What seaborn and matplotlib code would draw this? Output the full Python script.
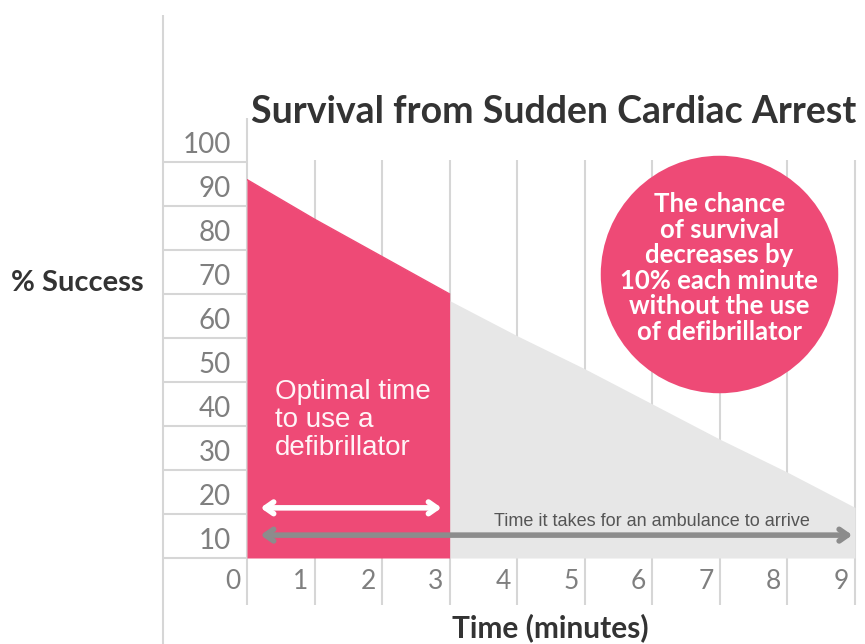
import matplotlib
matplotlib.use("Agg")
import matplotlib.pyplot as plt
import matplotlib.transforms as mtransforms
import seaborn as sns
import numpy as np

# values
minutes_optimal = [0, 1, 2, 3]
survival_optimal = [86, 77, 68.5, 60]
minutes_late = [3, 4, 5, 6, 7, 8, 9]
survival_late = [58.5, 50.5, 43, 35, 27, 19.5, 11.5]
y_labels = [10, 20, 30, 40, 50, 60, 70, 80, 90, 100]
x_labels = [0, 1, 2, 3, 4, 5, 6, 7, 8, 9]

PINK = '#EE4A76'
GREY_FILL = '#E7E7E7'
GRID = '#D6D6D6'
TICK = '#7F7F7F'
DARK = '#333333'


def main():
    sns.set_theme(style="white")
    plt.rcParams['font.family'] = ['Lato', 'DejaVu Sans']

    fig = plt.figure(figsize=(8.65, 6.44), dpi=100)
    ax = fig.add_axes([247 / 865, 86 / 644, 618 / 865, 440 / 644])
    for s in ax.spines.values():
        s.set_visible(False)

    # grid lines (they run past the plot into the label areas)
    ax.vlines(x_labels[1:], -10.7, 90.5, color=GRID, lw=1.5, zorder=0, clip_on=False)
    ax.vlines(0, -10.7, 100, color=GRID, lw=1.5, zorder=0, clip_on=False)
    ax.vlines(-1.243, -19.5, 123.4, color=GRID, lw=1.5, zorder=0, clip_on=False)
    ax.hlines([0] + y_labels[:-1], -1.243, 0, color=GRID, lw=1.5, zorder=0, clip_on=False)

    # survival areas
    ax.fill_between(minutes_late, 0, survival_late, color=GREY_FILL, lw=0, zorder=1)
    ax.fill_between(minutes_optimal, 0, survival_optimal, color=PINK, lw=0, zorder=2)
    sns.lineplot(x=minutes_optimal, y=survival_optimal, color=PINK, lw=1, ax=ax, zorder=2)

    # ticks: y labels sit in the middle of each cell, x labels just left of each grid line
    ax.set_yticks([v - 5.5 for v in y_labels])
    ax.set_yticklabels([str(v) for v in y_labels])
    ax.set_xticks(x_labels)
    ax.set_xticklabels([str(v) for v in x_labels])
    ax.tick_params(axis='y', length=0, pad=11.5, labelsize=20, labelcolor=TICK)
    ax.tick_params(axis='x', length=0, pad=8, labelsize=19, labelcolor=TICK)
    shift = mtransforms.ScaledTranslation(-14 / 100, 0, fig.dpi_scale_trans)
    for lab in ax.get_xticklabels():
        lab.set_transform(lab.get_transform() + shift)
    ax.set_xlim(0, 9.148)
    ax.set_ylim(0, 100)

    ax.set_ylabel('% Success', rotation=0, fontsize=21, fontweight='bold', color=DARK,
                  ha='center', va='center')
    ax.yaxis.set_label_coords(-0.275, 0.625)
    ax.set_xlabel('Time (minutes)', fontsize=21.5, fontweight='bold', color=DARK, va='center')
    ax.xaxis.set_label_coords(0.49, -0.159)

    fig.text(554 / 865, 1 - 123 / 644, 'Survival from Sudden Cardiac Arrest', ha='center',
             va='baseline', fontsize=27, fontweight='bold', color=DARK)

    # pink circle callout
    ax.scatter([6.99], [64.5], s=171 ** 2, color=PINK, lw=0, zorder=4)
    ax.text(6.99, 65.9, 'The chance\nof survival\ndecreases by\n10% each minute\nwithout the use\nof defibrillator',
            ha='center', va='center', color='white', fontsize=18.5, fontweight='bold',
            linespacing=1.08, zorder=5)

    # optimal time text and arrows
    ax.text(0.41, 31.4, 'Optimal time\nto use a\ndefibrillator', ha='left', va='center',
            color='#FFF4F7', fontsize=20, family='Liberation Sans', linespacing=1.1, zorder=5)
    ax.annotate('', xy=(2.88, 11.4), xytext=(0.2, 11.4),
                arrowprops=dict(arrowstyle='<->, head_length=0.5, head_width=0.35',
                                color='white', lw=4, capstyle='round', joinstyle='round',
                                shrinkA=0, shrinkB=0), zorder=5)
    ax.annotate('', xy=(8.96, 5.2), xytext=(0.2, 5.2),
                arrowprops=dict(arrowstyle='<->, head_length=0.5, head_width=0.35',
                                color='#8C8C8C', lw=4, capstyle='round', joinstyle='round',
                                shrinkA=0, shrinkB=0), zorder=5)
    ax.text(6.0, 8.2, 'Time it takes for an ambulance to arrive', ha='center', va='center',
            fontsize=13, color='#555555', family='Liberation Sans', zorder=5)

    plt.savefig('out.png', dpi=100)


if __name__ == "__main__":
    main()
